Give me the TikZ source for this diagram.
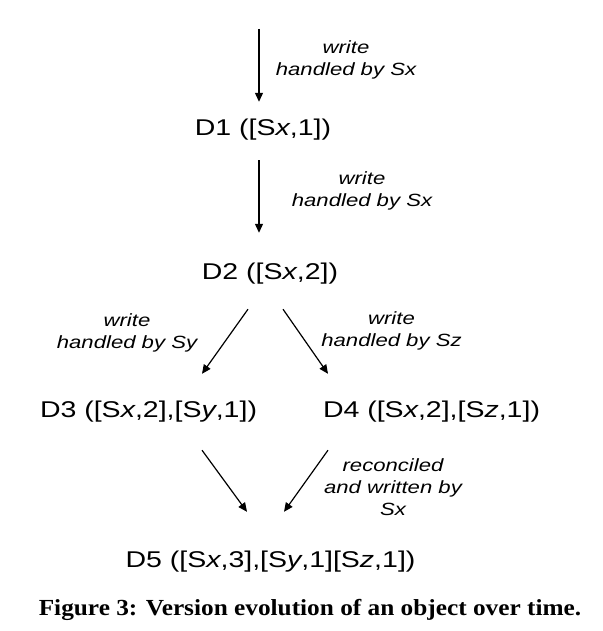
\documentclass[tikz,border=0pt]{standalone}
\usepackage{fontspec}
\usetikzlibrary{arrows.meta,calc}
\newfontfamily\diagfont[FakeStretch=1.25]{Liberation Sans}
\newfontfamily\capfont[FakeStretch=1.1]{Liberation Serif}
\tikzset{
  ver/.style={inner sep=0pt, text height=16pt, text depth=5pt, anchor=base,
    font=\diagfont\fontsize{22.8}{26}\selectfont},
  lbl/.style={inner sep=0pt, align=center,
    font=\diagfont\itshape\fontsize{17.7}{22}\selectfont},
  arr/.style={line width=1.2pt, -{Triangle[length=9pt,width=8pt]}},
}
\begin{document}
\begin{tikzpicture}[x=1pt,y=-1pt]
\useasboundingbox (0,0) rectangle (602,631);
% version nodes
\node[ver] (d1) at (263,136) {D1 ([S\textit{x},1])};
\node[ver] (d2) at (270,279) {D2 ([S\textit{x},2])};
\node[ver] (d3) at (148.5,417) {D3 ([S\textit{x},2],[S\textit{y},1])};
\node[ver] (d4) at (431.5,417) {D4 ([S\textit{x},2],[S\textit{z},1])};
\node[ver] (d5) at (270.5,567) {D5 ([S\textit{x},3],[S\textit{y},1][S\textit{z},1])};
% labels
\node[lbl] (l1) at (346,60) {write\\handled by Sx};
\node[lbl] (l2) at (362,191) {write\\handled by Sx};
\node[lbl] (l3) at (127,333) {write\\handled by Sy};
\node[lbl] (l4) at (391.5,331) {write\\handled by Sz};
\node[lbl] (l5) at (393,487) {reconciled\\and written by\\Sx};
% connectors
\coordinate (a0) at (259,29);
\draw[arr] (a0) -- ($(a0 |- d1.north)+(0,-18)$);
\draw[arr] ($(a0 |- d1.south)+(0,19)$) -- ($(a0 |- d2.north)+(0,-30)$);
\draw[arr] ($(d2.south)+(-22,25)$) -- ($(d3.north)+(53.5,-27)$);
\draw[arr] ($(d2.south)+(13,25)$) -- ($(d4.north)+(-103.5,-27)$);
\draw[arr] ($(d3.south)+(53.5,28)$) -- ($(d5.north)+(-23.5,-39)$);
\draw[arr] ($(d4.south)+(-103.5,28)$) -- ($(d5.north)+(13.5,-39)$);
% caption
\node[inner sep=0pt, anchor=base, font=\capfont\bfseries\fontsize{23}{27}\selectfont] (cap) at (310,615)
  {Figure 3: Version evolution of an object over time.};
\end{tikzpicture}
\end{document}
